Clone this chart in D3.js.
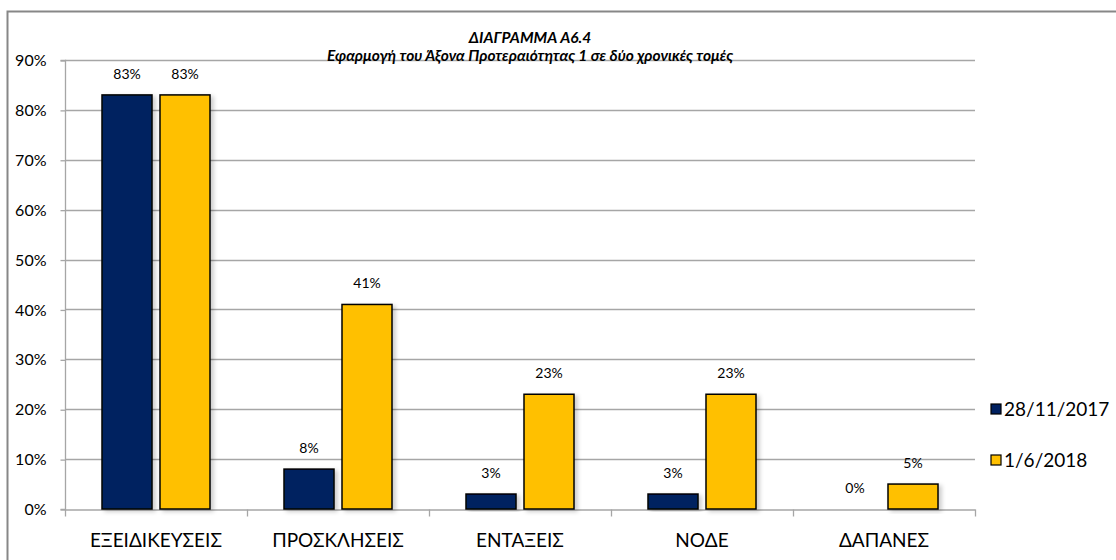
<!DOCTYPE html>
<html>
<head>
<meta charset="utf-8">
<script src="https://cdn.jsdelivr.net/npm/d3@7"></script>
<style>
  body { margin: 0; background: #fff; }
  text { font-family: Lato, "Open Sans", sans-serif; fill: #000; }
</style>
</head>
<body>
<div id="chart"></div>
<script>
const categories = ['ΕΞΕΙΔΙΚΕΥΣΕΙΣ', 'ΠΡΟΣΚΛΗΣΕΙΣ', 'ΕΝΤΑΞΕΙΣ', 'ΝΟΔΕ', 'ΔΑΠΑΝΕΣ'];
const seriesNames = ['28/11/2017', '1/6/2018'];
const values2017 = [83, 8, 3, 3, 0];
const values2018 = [83, 41, 23, 23, 5];
const yTicks = [0, 10, 20, 30, 40, 50, 60, 70, 80, 90];
const colors = ['#002060', '#FFC000'];

const width = 1116;
const height = 560;
const plot = { left: 65, right: 975, top: 60, bottom: 509 };

const svg = d3.select('#chart').append('svg')
  .attr('width', width)
  .attr('height', height);

const defs = svg.append('defs');
const shadow = defs.append('filter').attr('id', 'shadow')
  .attr('x', '-20%').attr('y', '-20%').attr('width', '150%').attr('height', '140%');
shadow.append('feDropShadow')
  .attr('dx', 3).attr('dy', 2).attr('stdDeviation', 2)
  .attr('flood-color', '#000').attr('flood-opacity', 0.2);

// outer frame
svg.append('path')
  .attr('d', `M7.5,${height} V11.5 H${width}`)
  .attr('fill', 'none')
  .attr('stroke', '#878787')
  .attr('stroke-width', 2);

const x = d3.scaleBand().domain(categories).range([plot.left, plot.right]);
const x1 = d3.scaleBand().domain(seriesNames).range([0, 108]).paddingInner(8 / 58);
const y = d3.scaleLinear().domain([0, 90]).range([plot.bottom, plot.top]);

// gridlines
svg.append('g').selectAll('line')
  .data(yTicks.filter((d) => d > 0))
  .enter()
  .append('line')
  .attr('x1', plot.left)
  .attr('x2', plot.right)
  .attr('y1', (d) => Math.round(y(d)) + 0.5)
  .attr('y2', (d) => Math.round(y(d)) + 0.5)
  .attr('stroke', '#a6a6a6')
  .attr('stroke-width', 1.3);

// y axis
const yAxis = svg.append('g')
  .attr('transform', `translate(${plot.left + 0.5},0.5)`)
  .call(d3.axisLeft(y).tickValues(yTicks).tickSize(5).tickPadding(14).tickFormat((d) => `${d}%`));
yAxis.selectAll('line, path').attr('stroke', '#a6a6a6').attr('stroke-width', 1.3);
yAxis.select('.domain').attr('d', `M-5,${plot.top}H0V${plot.bottom}H-5`);
yAxis.selectAll('text').style('font-size', '16px').style('font-family', 'Lato, sans-serif').attr('fill', '#000');

// x axis
const xAxis = svg.append('g')
  .attr('transform', `translate(0,${plot.bottom + 0.5})`)
  .call(d3.axisBottom(x).tickSize(0).tickPadding(24));
xAxis.select('.domain').attr('stroke', '#a6a6a6').attr('stroke-width', 1.3);
xAxis.selectAll('text').style('font-size', '19px').style('font-family', 'Lato, sans-serif').attr('fill', '#000');
xAxis.append('g').selectAll('line')
  .data(d3.range(categories.length + 1))
  .enter()
  .append('line')
  .attr('x1', (i) => Math.round(plot.left + i * x.bandwidth()) + 0.5)
  .attr('x2', (i) => Math.round(plot.left + i * x.bandwidth()) + 0.5)
  .attr('y1', 0)
  .attr('y2', 7)
  .attr('stroke', '#a6a6a6')
  .attr('stroke-width', 1.3);

// bars and their value labels
const series = [values2017, values2018];
const groupOffset = (x.bandwidth() - 108) / 2;
series.forEach((vals, s) => {
  const rows = vals.map((v, i) => ({ cat: categories[i], v }));
  svg.append('g').selectAll('rect')
    .data(rows.filter((d) => d.v > 0))
    .enter()
    .append('rect')
    .attr('x', (d) => x(d.cat) + groupOffset + x1(seriesNames[s]))
    .attr('y', (d) => y(d.v))
    .attr('width', x1.bandwidth())
    .attr('height', (d) => y(0) - y(d.v))
    .attr('fill', colors[s])
    .attr('stroke', '#000')
    .attr('stroke-width', 1.5)
    .attr('filter', 'url(#shadow)');

  svg.append('g').selectAll('text')
    .data(rows)
    .enter()
    .append('text')
    .attr('x', (d) => x(d.cat) + groupOffset + x1(seriesNames[s]) + x1.bandwidth() / 2)
    .attr('y', (d) => y(d.v) - 16)
    .attr('text-anchor', 'middle')
    .style('font-size', '14px')
    .text((d) => `${d.v}%`);
});

// title
const title = svg.append('g')
  .attr('text-anchor', 'middle')
  .style('font-size', '15.5px')
  .style('font-weight', 'bold')
  .style('font-style', 'italic');
title.append('text').attr('x', 530).attr('y', 43).text('ΔΙΑΓΡΑΜΜΑ Α6.4');
title.append('text').attr('x', 530).attr('y', 61).text('Εφαρμογή του Άξονα Προτεραιότητας 1 σε δύο χρονικές τομές');

// legend
const legend = svg.append('g')
  .selectAll('g')
  .data(seriesNames)
  .enter()
  .append('g')
  .attr('transform', (d, i) => `translate(991,${404 + i * 51})`);
legend.append('rect')
  .attr('width', 10)
  .attr('height', 10)
  .attr('fill', (d, i) => colors[i])
  .attr('stroke', '#000')
  .attr('stroke-width', 1.2);
legend.append('text')
  .attr('x', 13)
  .attr('y', 12)
  .style('font-size', '19px')
  .text((d) => d);
</script>
</body>
</html>
